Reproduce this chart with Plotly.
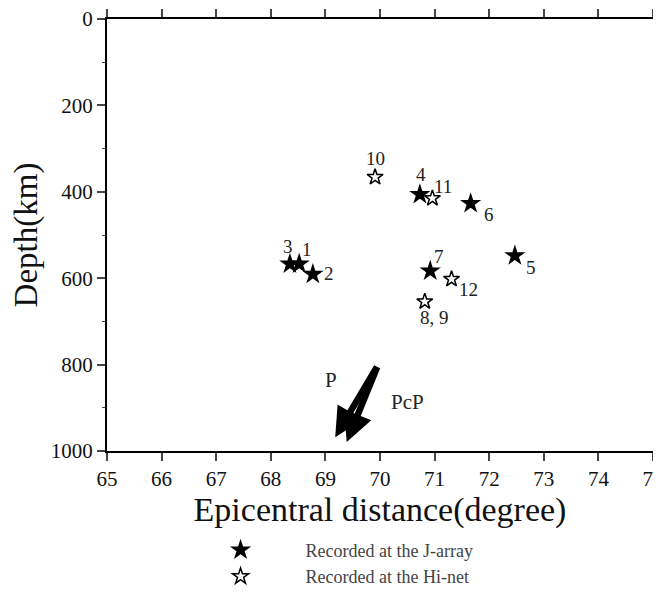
import plotly.graph_objects as go

# Event data
jarray_ids = ["1", "2", "3", "4", "5", "6", "7"]
jarray_dist = [68.52, 68.77, 68.35, 70.73, 72.47, 71.66, 70.92]
jarray_depth = [567, 591, 567, 406, 548, 427, 583]

hinet_ids = ["8, 9", "10", "11", "12"]
hinet_dist = [70.82, 69.91, 70.96, 71.31]
hinet_depth = [654, 366, 415, 602]

# Ray arrows (start -> end)
arrow_names = ["P", "PcP"]
arrow_start_dist = [69.96, 69.96]
arrow_start_depth = [802, 802]
arrow_end_dist = [69.18, 69.39]
arrow_end_depth = [968, 979]
arrow_label_dist = [69.11, 70.51]
arrow_label_depth = [835, 886]

x_ticks = list(range(65, 76))
y_ticks = [0, 200, 400, 600, 800, 1000]

FONT = "Liberation Serif"

# label offsets in pixels (xshift, yshift)
label_offsets = {
    "1": (8, 14), "2": (16, 1), "3": (-2, 17), "4": (1, 20), "5": (16, -12),
    "6": (18, -11), "7": (9, 14), "8, 9": (10, -16), "10": (0, 19),
    "11": (11, 12), "12": (17, -10),
}

PAD = "\u00a0" * 10

fig = go.Figure()
fig.add_trace(go.Scatter(
    x=jarray_dist, y=jarray_depth, mode="markers",
    marker=dict(symbol="star", size=16, color="black", line=dict(width=0)),
    name=PAD + "Recorded at the J-array",
))
fig.add_trace(go.Scatter(
    x=hinet_dist, y=hinet_depth, mode="markers",
    marker=dict(symbol="star-open", size=12, color="black", line=dict(width=1.5, color="black")),
    name=PAD + "Recorded at the Hi-net",
))

annotations = []
for ids, xs, ys in [(jarray_ids, jarray_dist, jarray_depth), (hinet_ids, hinet_dist, hinet_depth)]:
    for t, x, y in zip(ids, xs, ys):
        dx, dy = label_offsets[t]
        annotations.append(dict(x=x, y=y, xref="x", yref="y", text=t, showarrow=False,
                                xshift=dx, yshift=dy,
                                font=dict(family=FONT, size=19, color="#222")))

for sx, sy, ex, ey in zip(arrow_start_dist, arrow_start_depth, arrow_end_dist, arrow_end_depth):
    annotations.append(dict(x=ex, y=ey, ax=sx, ay=sy, xref="x", yref="y", axref="x", ayref="y",
                            showarrow=True, arrowhead=2, arrowsize=0.9, arrowwidth=6.5,
                            arrowcolor="black", text=""))
for name, x, y in zip(arrow_names, arrow_label_dist, arrow_label_depth):
    annotations.append(dict(x=x, y=y, xref="x", yref="y", text=name, showarrow=False,
                            font=dict(family=FONT, size=21, color="#222")))

fig.update_layout(
    width=661, height=598,
    margin=dict(l=99, r=16, t=11, b=155, autoexpand=False),
    plot_bgcolor="white", paper_bgcolor="white",
    font=dict(family=FONT, color="black"),
    annotations=annotations,
    showlegend=True,
    legend=dict(x=0.208, y=-0.187, xanchor="left", yanchor="top",
                font=dict(family=FONT, size=18, color="#444"),
                bgcolor="rgba(0,0,0,0)", itemclick=False),
    xaxis=dict(range=[65, 75], tickvals=x_ticks, ticks="outside", ticklen=8, tickwidth=1.5,
               showline=True, linewidth=2, linecolor="black", mirror="allticks",
               automargin=False, ticklabeloverflow="allow",
               showgrid=False, zeroline=False, tickfont=dict(family=FONT, size=21, color="#111"),
               title=dict(text="Epicentral distance(degree)", standoff=5,
                          font=dict(family=FONT, size=34, color="#111"))),
    yaxis=dict(range=[1000, 0], tickvals=y_ticks, ticks="outside", ticklen=8, tickwidth=1.5,
               showline=True, linewidth=2, linecolor="black", mirror="allticks",
               automargin=False, ticklabeloverflow="allow",
               showgrid=False, zeroline=False, tickfont=dict(family=FONT, size=21, color="#111"),
               minor=dict(dtick=100, ticks="outside", ticklen=3, tickwidth=1, showgrid=False),
               title=dict(text="Depth(km)", standoff=6,
                          font=dict(family=FONT, size=33, color="#111"))),
)

fig.write_html("out.html")
